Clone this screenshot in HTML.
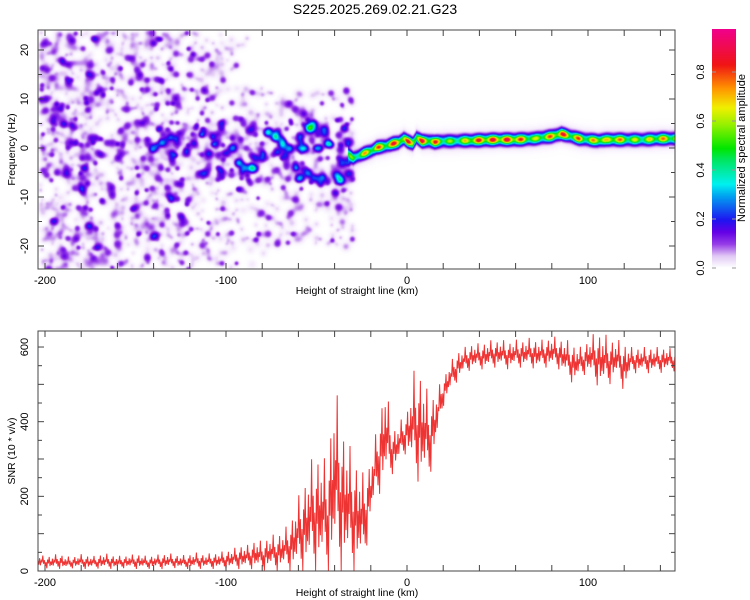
<!DOCTYPE html>
<html><head><meta charset="utf-8">
<style>
body{margin:0;background:#fff;width:750px;height:600px;overflow:hidden;position:relative;font-family:"Liberation Sans",sans-serif}
#heat{position:absolute;left:38px;top:30px}
svg{position:absolute;left:0;top:0}
</style></head><body>
<canvas id="heat" width="637" height="239"></canvas>
<svg id="svg" width="750" height="600">
<defs>
<linearGradient id="cmap" x1="0" y1="1" x2="0" y2="0">
<stop offset="0" stop-color="#ffffff"/><stop offset="0.05" stop-color="#e1c8f5"/><stop offset="0.1" stop-color="#963ce6"/>
<stop offset="0.15" stop-color="#6400e6"/><stop offset="0.2" stop-color="#1e14f0"/><stop offset="0.3" stop-color="#00a0f0"/>
<stop offset="0.35" stop-color="#00f0f0"/><stop offset="0.45" stop-color="#00e664"/><stop offset="0.5" stop-color="#00e600"/>
<stop offset="0.6" stop-color="#96f000"/><stop offset="0.67" stop-color="#f0f000"/><stop offset="0.75" stop-color="#ff9600"/>
<stop offset="0.85" stop-color="#f01414"/><stop offset="1" stop-color="#f0008c"/>
</linearGradient>
</defs>
<text x="375" y="14" font-size="14" text-anchor="middle">S225.2025.269.02.21.G23</text>
<g id="top-axes"></g>
<g id="bot-plot"></g>
<rect x="712" y="29" width="24" height="239" fill="url(#cmap)"/>
<g id="cbar-ticks"></g>
<text transform="translate(745,148) rotate(-90)" font-size="11" text-anchor="middle">Normalized spectral amplitude</text>
</svg>
<script>
// ---- data ----
const ridgeKm=[-33,-30,-27,-24,-20,-17,-12,-8,-5,-2,0,3,5,8,12,15,20,25,30,35,40,50,60,70,80,85,90,95,100,105,110,115,120,130,140,148];
const ridgeHz=[-1,-2,-1.5,-1,-0.5,0.2,0.5,1,1.2,2,1.5,1,2.2,1.5,1.5,1.3,1.5,1.5,1.6,1.6,1.7,1.8,1.8,2,2.5,3,2.5,2,1.8,1.6,1.8,1.8,1.8,1.8,2,2];
const ridgeAmp=[0.4,0.5,0.6,0.7,0.7,0.8,0.7,0.85,0.9,0.7,0.85,0.9,0.7,0.9,0.75,0.85,0.6,0.55,0.6,0.8,0.85,0.88,0.88,0.6,0.8,0.9,0.7,0.8,0.6,0.85,0.65,0.85,0.65,0.6,0.75,0.65];
const blobKm=[-140,-135,-130,-128,-122,-118,-113,-110,-106,-103,-100,-96,-93,-90,-86,-84,-80,-77,-73,-69,-65,-58,-54,-49,-44,-46,-60,-62,-66,-57,-52,-62,-59,-55,-52,-48,-39,-37,-40,-38,-36,-34,-36,-190,-180,-170,-160,-175,-195,-150,-155,-165,-185,-140,-130,-120,-200,-148,-112,-125,-170,-190];
const blobHz=[0,1,-1,2,-1,1,3,-1,1,5,-1,0,-3,-4,-4,-2,-2,3.3,2.3,1,0,0,4,0,1,3,2,8,9,7,5,-4,-6,-5,-6,-7,-5.5,-6.5,-9,-12,-15,-20,-3,5,-8,12,-2,2,-15,-12,8,20,22,-18,-10,15,10,15,12,-14,-20,-22];
const blobAmp=[0.16,0.18,0.16,0.15,0.16,0.18,0.16,0.2,0.16,0.16,0.18,0.16,0.2,0.25,0.33,0.18,0.16,0.32,0.36,0.3,0.26,0.26,0.3,0.24,0.26,0.18,0.16,0.13,0.12,0.13,0.16,0.16,0.26,0.26,0.18,0.16,0.27,0.29,0.16,0.14,0.08,0.07,0.18,0.14,0.14,0.13,0.14,0.13,0.13,0.13,0.13,0.12,0.12,0.11,0.12,0.11,0.12,0.11,0.11,0.11,0.12,0.11];
const snrKm=[];for(let k=-204;k<=148;k+=4)snrKm.push(k);
const snrMax=[45,40,42,48,38,40,45,42,40,48,45,40,42,44,46,40,42,45,48,44,42,46,50,45,48,50,
55,60,70,70,85,80,95,100,110,140,200,250,310,320,290,510,400,340,300,260,300,400,510,380,400,430,540,540,470,480,520,560,590,600,610,610,615,620,620,615,620,620,625,620,620,630,625,620,610,600,620,640,640,625,620,615,600,600,600,600,600,600,590];
const snrMin=[5,8,5,6,5,8,6,5,7,5,6,5,8,5,6,5,7,5,6,8,5,6,5,7,5,6,
5,5,5,5,5,0,5,0,5,0,0,0,0,0,0,0,0,0,0,10,140,200,230,260,290,320,250,230,240,330,440,480,510,530,540,540,540,545,545,540,545,545,545,540,545,545,540,520,500,520,530,500,490,500,520,480,530,530,530,530,530,535,535];
const xTicks=[-200,-100,0,100];
const hzTicks=[-20,-10,0,10,20];
const snrTicks=[0,200,400,600];
const cbTicks=[0,0.2,0.4,0.6,0.8];

// ---- scales ----
const X=km=>407+km*1.81;
const Yt=hz=>148-hz*4.9;
const Yb=v=>571-v*0.3733;
const NS="http://www.w3.org/2000/svg";
function mk(tag,attrs,parent){const e=document.createElementNS(NS,tag);for(const k in attrs)e.setAttribute(k,attrs[k]);parent.appendChild(e);return e;}
function interp(xs,ys,x){if(x<=xs[0])return ys[0];for(let i=1;i<xs.length;i++){if(x<=xs[i]){const t=(x-xs[i-1])/(xs[i]-xs[i-1]);return ys[i-1]+t*(ys[i]-ys[i-1]);}}return ys[ys.length-1];}

// ---- heatmap ----
const W=637,H=239,OX=38,OY=30;
const F=new Float32Array(W*H);
function addBlob(cx,cy,amp,s){const R=Math.ceil(s*3);for(let y=Math.max(0,Math.floor(cy-R));y<Math.min(H,cy+R);y++)for(let x=Math.max(0,Math.floor(cx-R));x<Math.min(W,cx+R);x++){const d=(x-cx)**2+(y-cy)**2;F[y*W+x]+=amp*Math.exp(-d/(2*s*s));}}
function hash(i,j,s){const v=Math.sin(i*12.9898+j*78.233+s*37.719)*43758.5453;return v-Math.floor(v);}
// background speckle texture
for(let i=0;i<W/5;i++)for(let j=0;j<H/5;j++){
  const px=i*5+2+hash(i,j,1)*3, py=j*5+2+hash(i,j,2)*3;
  const km=(px+OX-407)/1.81, hz=(148-(py+OY))/4.9;
  let d=0,band=false;
  if(km<-97)d=0.62-(km+204)/110*0.2;
  else if(km<-30&&hz>-20&&hz<12)d=0.32;
  else if(km<-75)d=0.1;
  if(km>-150&&km<-30&&hz>-7&&hz<6){d=Math.max(d,0.6);band=true;}
  const h=hash(i,j,4);
  if(hash(i,j,3)<d)addBlob(px,py,0.03+(h>(band?0.55:0.8)?0.085:0.03*h),1.7+hash(i,j,5)*1.4);
}
for(let i=0;i<blobKm.length;i++)addBlob(X(blobKm[i])-OX,Yt(blobHz[i])-OY,blobAmp[i],3);
for(let cx=0;cx<W;cx++){const km=(cx+OX-407)/1.81;if(km<ridgeKm[0])continue;
  const hz=interp(ridgeKm,ridgeHz,km);const a=interp(ridgeKm,ridgeAmp,km)*(0.78+0.22*Math.cos(km*0.8));
  const cy=Yt(hz)-OY;
  for(let y=0;y<H;y++){const d=(y-cy)**2;F[y*W+cx]+=a*Math.exp(-d/(2*3.2*3.2))+0.07*Math.exp(-d/(2*6.5*6.5));}}
const stops=[[0,255,255,255],[0.03,245,235,252],[0.05,225,200,245],[0.1,150,60,230],[0.15,100,0,230],[0.2,30,20,240],[0.3,0,160,240],[0.35,0,240,240],[0.45,0,230,100],[0.5,0,230,0],[0.6,150,240,0],[0.67,240,240,0],[0.75,255,150,0],[0.85,240,20,20],[1,240,0,140]];
function cmap(v){v=Math.min(1,Math.max(0,v));for(let i=1;i<stops.length;i++)if(v<=stops[i][0]){const a=stops[i-1],b=stops[i],t=(v-a[0])/(b[0]-a[0]);return[a[1]+t*(b[1]-a[1]),a[2]+t*(b[2]-a[2]),a[3]+t*(b[3]-a[3])];}return stops[stops.length-1].slice(1);}
const ctx=document.getElementById('heat').getContext('2d');const img=ctx.createImageData(W,H);
for(let p=0;p<W*H;p++){const c=cmap(F[p]);img.data[p*4]=c[0];img.data[p*4+1]=c[1];img.data[p*4+2]=c[2];img.data[p*4+3]=255;}
ctx.putImageData(img,0,0);

// ---- axes ----
function axes(g,top,bot,yTicks,yFn,yMinorStep,yMin,yMax,yLabel,name){
  const r=mk('rect',{x:38,y:top,width:637,height:bot-top,fill:'none',stroke:'#444','stroke-width':1},g);
  
  
  for(let k=-200;k<=140;k+=20){const x=X(k);mk('line',{x1:x,y1:bot,x2:x,y2:bot-6,stroke:'#444'},g);mk('line',{x1:x,y1:top,x2:x,y2:top+6,stroke:'#444'},g);}
  xTicks.forEach(k=>{const t=mk('text',{x:X(k),y:bot+15,'font-size':11,'text-anchor':'middle'},g);t.textContent=k;
    
    });
  const xl=mk('text',{x:357,y:bot+25,'font-size':10.5,'text-anchor':'middle'},g);xl.textContent='Height of straight line (km)';
  
  
  for(let v=yMin;v<=yMax;v+=yMinorStep){const y=yFn(v);if(y<top||y>bot)continue;const L=(v%(yMinorStep*2)===0)?6:4;
    mk('line',{x1:38,y1:y,x2:38+L,y2:y,stroke:'#444'},g);mk('line',{x1:675,y1:y,x2:675-L,y2:y,stroke:'#444'},g);}
  yTicks.forEach(v=>{const y=yFn(v);const t=mk('text',{transform:`translate(28,${y}) rotate(-90)`,'font-size':11,'text-anchor':'middle'},g);t.textContent=v;
    
    });
  const yl=mk('text',{transform:`translate(15,${(top+bot)/2}) rotate(-90)`,'font-size':10.5,'text-anchor':'middle'},g);yl.textContent=yLabel;
  
  
}
const gt=document.getElementById('top-axes');
axes(gt,30,269,hzTicks,Yt,5,-25,25,'Frequency (Hz)','spectrogram');
const gb=document.getElementById('bot-plot');
// SNR line
const pat=[0.55,0.3,0.75,0.25,0.6,0.45,1.0,0.35,0.65,0.15,0.5,0.0,0.7,0.4,0.9,0.2];
let d='';let i=0;
for(let x=38;x<=675;x+=0.8,i++){const km=(x-407)/1.81;const mn=interp(snrKm,snrMin,km),mx=interp(snrKm,snrMax,km);
  const v=mn+(mx-mn)*pat[i%pat.length];d+=(i?'L':'M')+x.toFixed(1)+','+Yb(v).toFixed(1);}
const line=mk('path',{d:d,fill:'none',stroke:'#ee3333','stroke-width':1},gb);


axes(gb,331,571,snrTicks,Yb,50,0,650,'SNR (10 * v/v)','snr');
// colorbar ticks
const gc=document.getElementById('cbar-ticks');
cbTicks.forEach(v=>{const y=268-v*245;const t=mk('text',{transform:`translate(704,${y}) rotate(-90)`,'font-size':11,'text-anchor':'middle'},gc);t.textContent=v.toFixed(1);
  
  
  mk('line',{x1:712,y1:y,x2:716,y2:y,stroke:'#999'},gc);mk('line',{x1:732,y1:y,x2:736,y2:y,stroke:'#999'},gc);});
</script>
</body></html>
